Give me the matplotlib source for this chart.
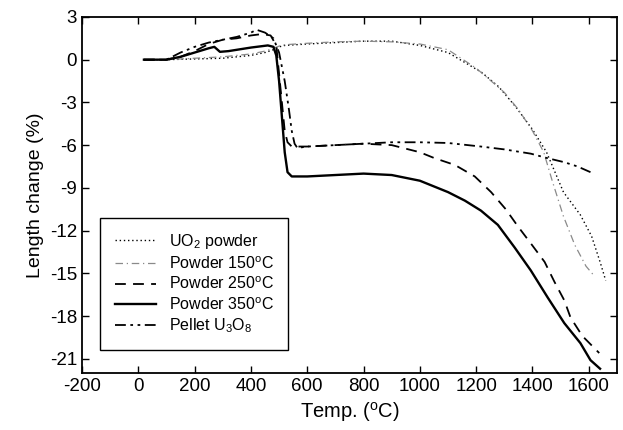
import matplotlib
matplotlib.use('Agg')
import matplotlib.pyplot as plt

plt.rcParams['font.family'] = ['Liberation Sans', 'DejaVu Sans']
plt.rcParams['mathtext.fontset'] = 'custom'
plt.rcParams['mathtext.rm'] = 'Liberation Sans'
plt.rcParams['mathtext.it'] = 'Liberation Sans'
plt.rcParams['axes.unicode_minus'] = False

# UO2 powder
t_uo2 = [20, 100, 200, 300, 400, 450, 480, 500, 520, 600, 700, 800, 900, 1000,
         1100, 1160, 1220, 1280, 1340, 1400, 1450, 1510, 1570, 1610, 1640, 1660]
l_uo2 = [0, 0.0, 0.05, 0.1, 0.3, 0.5, 0.7, 0.9, 1.0, 1.1, 1.2, 1.3, 1.3, 1.0,
         0.5, -0.2, -0.9, -1.9, -3.3, -4.9, -6.5, -9.3, -10.9, -12.4, -14.2, -15.5]

# powder 150C
t_150 = [20, 100, 200, 300, 400, 450, 480, 500, 520, 600, 700, 800, 900, 1000,
         1100, 1200, 1265, 1300, 1350, 1400, 1440, 1470, 1510, 1550, 1590, 1620]
l_150 = [0, 0.0, 0.1, 0.2, 0.4, 0.6, 0.8, 0.95, 1.05, 1.15, 1.25, 1.3, 1.25, 1.1,
         0.7, -0.6, -1.7, -2.3, -3.5, -5.0, -6.5, -8.5, -11.0, -13.0, -14.5, -15.2]

# powder 250C
t_250 = [20, 100, 150, 200, 250, 300, 350, 400, 440, 470, 490, 500, 510, 520, 530,
         545, 600, 700, 800, 900, 1000, 1050, 1125, 1195, 1253, 1305, 1348, 1394,
         1443, 1478, 1513, 1535, 1577, 1637]
l_250 = [0, 0.0, 0.2, 0.6, 1.1, 1.4, 1.5, 1.7, 1.8, 1.7, 1.0, -1.0, -3.0, -5.0, -5.8,
         -6.1, -6.1, -6.0, -5.9, -6.0, -6.5, -6.9, -7.4, -8.2, -9.3, -10.5, -11.7, -12.9,
         -14.2, -15.6, -16.9, -18.1, -19.4, -20.6]

# powder 350C
t_350 = [20, 100, 150, 200, 250, 270, 290, 320, 400, 460, 480, 490, 500, 510, 520,
         530, 545, 600, 700, 800, 900, 1000, 1100, 1160, 1217, 1277, 1337, 1394,
         1454, 1513, 1570, 1606, 1640]
l_350 = [0, 0.0, 0.2, 0.5, 0.8, 0.9, 0.55, 0.6, 0.85, 1.0, 0.9, 0.3, -1.5, -4.0, -6.5,
         -7.9, -8.2, -8.2, -8.1, -8.0, -8.1, -8.5, -9.3, -9.9, -10.6, -11.6, -13.2, -14.8,
         -16.7, -18.5, -19.9, -21.1, -21.7]

# pellet U3O8
t_pel = [20, 100, 150, 200, 250, 300, 350, 400, 420, 450, 480, 500, 520, 535, 545,
         555, 565, 600, 700, 800, 900, 1000, 1100, 1217, 1300, 1394, 1450, 1513, 1560, 1606]
l_pel = [0, 0.0, 0.5, 0.9, 1.2, 1.4, 1.6, 1.9, 2.1, 1.9, 1.5, 0.5, -1.5, -3.5, -5.0,
         -5.9, -6.2, -6.1, -6.0, -5.9, -5.8, -5.8, -5.85, -6.1, -6.3, -6.6, -6.9, -7.2, -7.5, -7.9]

fig = plt.figure(figsize=(6.23, 4.3), dpi=100)
ax = fig.add_axes([0.1316, 0.1326, 0.8587, 0.828])

ax.plot(t_uo2, l_uo2, color='black', lw=1.0, ls=(0, (1, 2)), label=r'UO$_2$ powder')
ax.plot(t_150, l_150, color='#8a8a8a', lw=0.9, ls=(0, (6, 3, 1, 3)), label=r'Powder 150$^\mathrm{o}$C')
ax.plot(t_250, l_250, color='black', lw=1.3, ls=(0, (6, 4)), label=r'Powder 250$^\mathrm{o}$C')
ax.plot(t_350, l_350, color='black', lw=1.7, ls='-', label=r'Powder 350$^\mathrm{o}$C')
ax.plot(t_pel, l_pel, color='black', lw=1.3, ls=(0, (6, 2.5, 1.5, 2.5, 1.5, 2.5)), label=r'Pellet U$_3$O$_8$')

ax.set_xlim(-200, 1700)
ax.set_ylim(-22, 3)
ax.set_xticks(range(-200, 1601, 200))
ax.set_yticks(range(-21, 4, 3))
ax.tick_params(direction='in', top=True, right=True, labelsize=13.5, length=5, width=1)
for s in ax.spines.values():
    s.set_linewidth(1.3)

ax.set_xlabel(r'Temp. ($^\mathrm{o}$C)', fontsize=14.5)
ax.set_ylabel('Length change (%)', fontsize=14)

leg = ax.legend(loc='lower left', bbox_to_anchor=(0.034, 0.065), borderaxespad=0,
                fontsize=11.5, handlelength=2.6, fancybox=False, edgecolor='black',
                framealpha=1, labelspacing=0.25, borderpad=0.9)
leg.get_frame().set_linewidth(1.0)

plt.savefig('out.png', dpi=100)
